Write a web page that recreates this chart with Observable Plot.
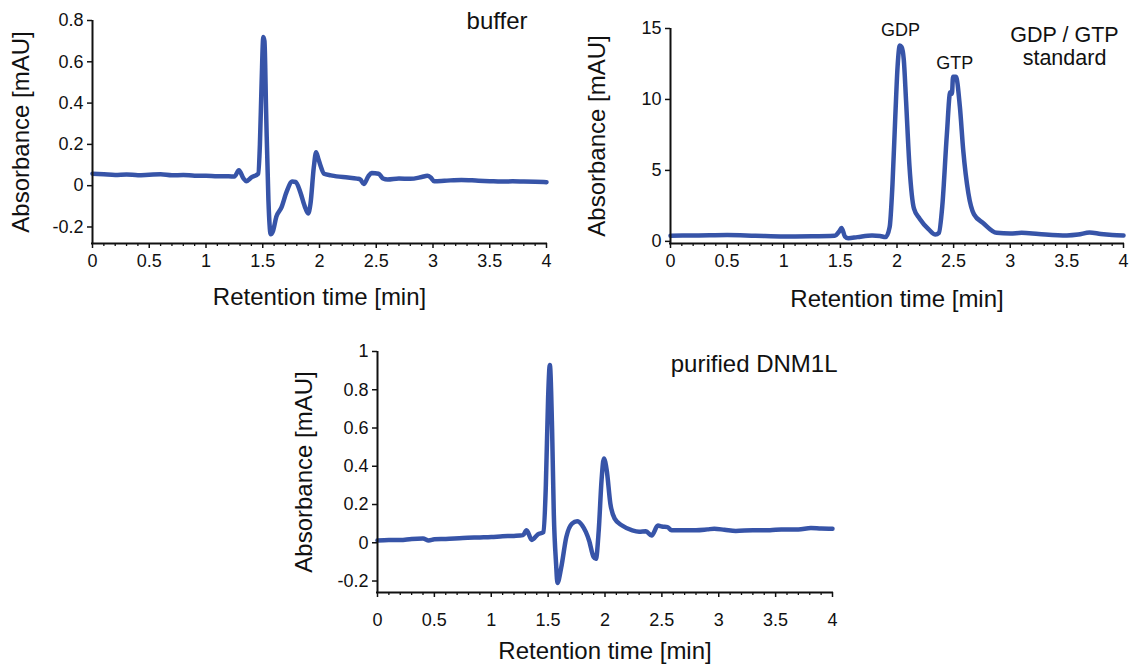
<!DOCTYPE html>
<html>
<head>
<meta charset="utf-8">
<script src="https://cdn.jsdelivr.net/npm/d3@7"></script>
<script src="https://cdn.jsdelivr.net/npm/@observablehq/plot@0.6"></script>
<style>
  html, body { margin: 0; padding: 0; background: #fff; }
  #wrap { position: relative; width: 1132px; height: 666px; overflow: hidden; }
  .panel { position: absolute; }
  svg { overflow: visible; }
</style>
</head>
<body>
<div id="wrap">
  <div class="panel" id="p1" style="left:0px;top:0px"></div>
  <div class="panel" id="p2" style="left:570px;top:0px"></div>
  <div class="panel" id="p3" style="left:280px;top:330px"></div>
</div>
<script>
// ---------- data ----------
const bufferTime = [0,0.1,0.2,0.3,0.4,0.5,0.6,0.7,0.8,0.9,1.0,1.1,1.2,1.25,1.29,1.33,1.355,1.40,1.46,1.475,1.49,1.505,1.515,1.53,1.55,1.57,1.59,1.62,1.665,1.71,1.76,1.79,1.83,1.87,1.9,1.92,1.95,1.97,1.99,2.01,2.04,2.1,2.15,2.25,2.33,2.36,2.39,2.43,2.46,2.52,2.56,2.6,2.7,2.8,2.9,2.95,2.98,3.01,3.1,3.25,3.4,3.5,3.6,3.7,3.8,3.9,4.0];
const bufferAbs  = [0.058,0.055,0.052,0.054,0.051,0.053,0.055,0.05,0.052,0.048,0.048,0.046,0.046,0.044,0.075,0.035,0.022,0.04,0.058,0.2,0.5,0.72,0.70,0.35,-0.07,-0.235,-0.22,-0.15,-0.105,-0.03,0.02,0.018,-0.03,-0.1,-0.135,-0.09,0.09,0.162,0.13,0.095,0.058,0.05,0.045,0.04,0.034,0.03,0.008,0.045,0.062,0.058,0.035,0.03,0.035,0.033,0.042,0.048,0.04,0.022,0.024,0.028,0.024,0.022,0.02,0.021,0.02,0.019,0.017];

const stdTime = [0,0.25,0.5,0.75,1.0,1.25,1.45,1.49,1.51,1.54,1.57,1.65,1.78,1.85,1.9,1.935,1.96,1.985,2.005,2.025,2.04,2.06,2.08,2.11,2.15,2.2,2.28,2.34,2.37,2.4,2.44,2.47,2.485,2.495,2.52,2.555,2.585,2.63,2.68,2.76,2.88,3.0,3.1,3.25,3.5,3.6,3.7,3.8,3.9,4.0];
const stdAbs  = [0.4,0.42,0.45,0.4,0.35,0.36,0.4,0.7,0.95,0.35,0.22,0.3,0.42,0.38,0.3,1.0,4.0,8.8,12.3,13.8,13.7,12.8,9.9,5.3,2.3,1.6,0.85,0.48,0.6,2.5,7.5,10.5,10.4,11.6,11.6,9.5,6.4,3.4,1.9,1.3,0.6,0.55,0.6,0.52,0.42,0.48,0.63,0.52,0.45,0.42];

const dnmTime = [0,0.1,0.2,0.3,0.4,0.45,0.5,0.6,0.75,0.9,1.0,1.1,1.2,1.28,1.31,1.357,1.41,1.46,1.48,1.5,1.515,1.535,1.55,1.57,1.582,1.615,1.66,1.71,1.755,1.8,1.86,1.9,1.92,1.945,1.97,1.99,2.015,2.047,2.085,2.15,2.24,2.3,2.36,2.41,2.465,2.5,2.55,2.585,2.7,2.8,2.9,2.96,3.05,3.15,3.3,3.45,3.55,3.7,3.81,3.9,4.0];
const dnmAbs  = [0.012,0.015,0.014,0.02,0.022,0.012,0.018,0.02,0.025,0.028,0.03,0.034,0.036,0.04,0.065,0.015,0.044,0.056,0.3,0.76,0.93,0.59,0.15,-0.11,-0.21,-0.13,0.03,0.1,0.112,0.09,0.012,-0.075,-0.084,0.065,0.33,0.44,0.38,0.205,0.126,0.09,0.065,0.058,0.06,0.038,0.09,0.085,0.082,0.065,0.066,0.066,0.07,0.073,0.068,0.062,0.066,0.066,0.07,0.07,0.077,0.074,0.073];

const xMajorTicks = [0,0.5,1,1.5,2,2.5,3,3.5,4];
const xMinorTicks = [0.1,0.2,0.3,0.4,0.6,0.7,0.8,0.9,1.1,1.2,1.3,1.4,1.6,1.7,1.8,1.9,2.1,2.2,2.3,2.4,2.6,2.7,2.8,2.9,3.1,3.2,3.3,3.4,3.6,3.7,3.8,3.9];
const yTicksBuffer = [-0.2,0,0.2,0.4,0.6,0.8];
const yTicksStd = [0,5,10,15];
const yTicksDnm = [-0.2,0,0.2,0.4,0.6,0.8,1];

const peakLabels = ["GDP","GTP"];
const peakTime = [2.03,2.51];
const peakAbs = [13.9,11.6];

const xLabel = "Retention time [min]";
const yLabel = "Absorbance [mAU]";

// ---------- style ----------
const FONT = "'Liberation Sans', Arial, Helvetica, sans-serif";
const LINE = "#3754a8";
const INK = "#111";

function toRows(ts, vs) { return ts.map((t, i) => ({t, v: vs[i]})); }
const fmt = d => String(d);

function panel(opts) {
  const rows = toRows(opts.time, opts.abs);
  const [y0, y1] = opts.yDomain;
  const marks = [
    Plot.line(rows, {x: "t", y: "v", stroke: LINE, strokeWidth: 4.5, curve: "monotone-x", strokeLinejoin: "round", strokeLinecap: "round"}),
    Plot.ruleX([0], {stroke: INK, strokeWidth: 2}),
    Plot.ruleY([y0], {stroke: INK, strokeWidth: 2, strokeLinecap: "square"}),
    Plot.axisX(xMinorTicks, {tickSize: 3, tickFormat: () => "", stroke: INK, strokeWidth: 1.3, label: null}),
    Plot.axisX(xMajorTicks, {tickSize: 5, tickPadding: opts.xTickPad, tickFormat: fmt, fontSize: 18, fill: INK, stroke: INK, strokeWidth: 1.5, label: null}),
    Plot.axisY(opts.yTicks, {tickSize: 5, tickPadding: 4, tickFormat: fmt, fontSize: 18, fill: INK, stroke: INK, strokeWidth: 1.5, label: null}),
    Plot.text([xLabel], {frameAnchor: "bottom", lineAnchor: "middle", textAnchor: "middle", dy: opts.xLabelDy, fontSize: 24, fill: INK}),
    Plot.text([yLabel], {frameAnchor: "left", textAnchor: "middle", lineAnchor: "middle", dx: opts.yLabelDx, rotate: -90, fontSize: 24, fill: INK}),
    ...opts.extra
  ];
  return Plot.plot({
    width: opts.width, height: opts.height,
    marginLeft: opts.ml, marginRight: opts.mr, marginTop: opts.mt, marginBottom: opts.mb,
    x: {domain: [0, 4]},
    y: {domain: [y0, y1]},
    style: {fontFamily: FONT, background: "transparent", overflow: "visible"},
    marks
  });
}

document.getElementById("p1").appendChild(panel({
  time: bufferTime, abs: bufferAbs, yDomain: [-0.28, 0.8], yTicks: yTicksBuffer,
  width: 560, height: 310, ml: 92, mr: 14, mt: 20, mb: 67,
  xTickPad: 6, xLabelDy: 54, yLabelDx: -71,
  extra: [
    Plot.text(["buffer"], {frameAnchor: "top-right", textAnchor: "end", lineAnchor: "middle", dx: -19, dy: 1, fontSize: 24, fill: INK})
  ]
}));

document.getElementById("p2").appendChild(panel({
  time: stdTime, abs: stdAbs, yDomain: [-0.15, 15], yTicks: yTicksStd,
  width: 562, height: 310, ml: 100, mr: 9, mt: 28, mb: 67,
  xTickPad: 6, xLabelDy: 56, yLabelDx: -73,
  extra: [
    Plot.text(peakLabels, {x: (d, i) => peakTime[i], y: (d, i) => peakAbs[i], text: d => d, dy: -14, fontSize: 18, fill: INK}),
    Plot.text(["GDP / GTP"], {frameAnchor: "top-right", textAnchor: "middle", lineAnchor: "middle", dx: -59, dy: 7, fontSize: 21.5, fill: INK}),
    Plot.text(["standard"], {frameAnchor: "top-right", textAnchor: "middle", lineAnchor: "middle", dx: -59, dy: 30, fontSize: 21.5, fill: INK})
  ]
}));

document.getElementById("p3").appendChild(panel({
  time: dnmTime, abs: dnmAbs, yDomain: [-0.26, 1], yTicks: yTicksDnm,
  width: 560, height: 336, ml: 97, mr: 8, mt: 21, mb: 74,
  xTickPad: 16, xLabelDy: 59, yLabelDx: -73,
  extra: [
    Plot.text(["purified DNM1L"], {frameAnchor: "top-right", textAnchor: "end", lineAnchor: "middle", dx: 5, dy: 13, fontSize: 24, fill: INK})
  ]
}));
</script>
</body>
</html>
